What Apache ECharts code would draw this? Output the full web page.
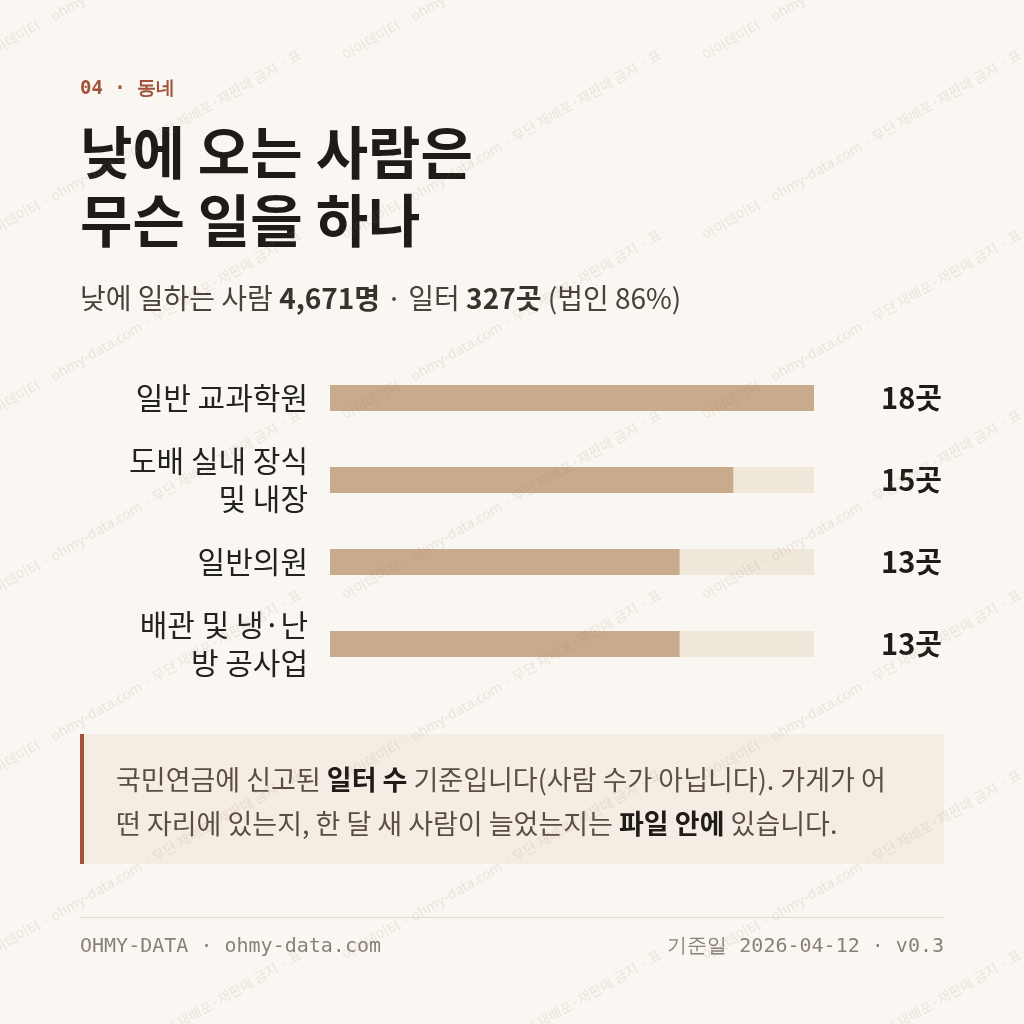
<!DOCTYPE html>
<html><head><meta charset="utf-8">
<script src="https://cdn.jsdelivr.net/npm/echarts@6/dist/echarts.min.js"></script>
<style>html,body{margin:0;background:#faf7f2}#c{width:1024px;height:1024px}</style>
</head><body><div id="c"></div>
<script>
var categories = ['일반 교과학원', '도배 실내 장식\n및 내장', '일반의원', '배관 및 냉·난\n방 공사업'];
var counts = [18, 15, 13, 13];
var countLabels = ['18곳', '15곳', '13곳', '13곳'];
var maxCount = 18;

var chart = echarts.init(document.getElementById('c'));
var KR = '"Noto Sans CJK KR", "Noto Sans", sans-serif';
var MONO = '"DejaVu Sans Mono", monospace';

// watermark
var marks = [];
var wm = '아이데이터 · ohmy-data.com · 무단 재배포·재판매 금지 · 표';
for (var r = -2; r < 8; r++) {
    for (var c = 0; c < 3; c++) {
        marks.push({
            type: 'text', x: c * 360 - 20, y: r * 180 + 230, rotation: Math.PI / 6, z: 100,
            style: { text: wm, fill: 'rgba(150,125,100,0.16)', font: '14px ' + KR }
        });
    }
}

chart.setOption({
    backgroundColor: '#faf7f2',
    grid: { left: 330, right: 210, top: 357, height: 328 },
    xAxis: { type: 'value', min: 0, max: maxCount, show: false },
    yAxis: [{
        type: 'category', data: categories, inverse: true,
        axisLine: { show: false }, axisTick: { show: false },
        axisLabel: { color: '#222', fontSize: 30, lineHeight: 38, margin: 22, align: 'right', fontFamily: KR }
    }, {
        type: 'category', data: countLabels, inverse: true, position: 'right',
        axisLine: { show: false }, axisTick: { show: false },
        axisLabel: { color: '#1f1b18', fontSize: 29, fontWeight: 'bold', margin: 128, align: 'right', fontFamily: KR }
    }],
    series: [{
        type: 'bar', data: counts, barWidth: 26,
        itemStyle: { color: '#c8ab8a' },
        showBackground: true, backgroundStyle: { color: '#f0e7db' },
        silent: true
    }],
    graphic: marks.concat([
        { type: 'text', x: 80, y: 80, style: { text: '04 · 동네', fill: '#a0523a', font: 'bold 19px ' + MONO } },
        { type: 'text', x: 80, y: 118, style: { text: '낮에 오는 사람은\n무슨 일을 하나', fill: '#1f1b18', font: 'bold 57px ' + KR, lineHeight: 68 } },
        { type: 'text', x: 80, y: 284, style: {
            text: '낮에 일하는 사람 {b|4,671명} · 일터 {b|327곳} (법인 86%)',
            fill: '#4a413a', font: '28px ' + KR,
            rich: { b: { fontWeight: 'bold', fontSize: 28, fontFamily: KR, fill: '#3a322c' } }
        } },
        { type: 'rect', shape: { x: 80, y: 734, width: 864, height: 130 }, style: { fill: '#f5ede3' } },
        { type: 'rect', shape: { x: 80, y: 734, width: 4, height: 130 }, style: { fill: '#a0523a' } },
        { type: 'text', x: 116, y: 758, style: {
            text: '국민연금에 신고된 {b|일터 수} 기준입니다(사람 수가 아닙니다). 가게가 어\n떤 자리에 있는지, 한 달 새 사람이 늘었는지는 {b|파일 안에} 있습니다.',
            fill: '#5a4e44', font: '27px ' + KR, lineHeight: 44,
            rich: { b: { fontWeight: 'bold', fontSize: 27, fontFamily: KR, fill: '#1f1b18', lineHeight: 44 } }
        } },
        { type: 'rect', shape: { x: 80, y: 917, width: 864, height: 1 }, style: { fill: '#e4dcd2' } },
        { type: 'text', x: 80, y: 937, style: { text: 'OHMY-DATA · ohmy-data.com', fill: '#8a8077', font: '20px ' + MONO } },
        { type: 'text', x: 944, y: 937, style: { text: '기준일 2026-04-12 · v0.3', fill: '#8a8077', font: '20px ' + MONO, align: 'right' } }
    ])
});
</script></body></html>
